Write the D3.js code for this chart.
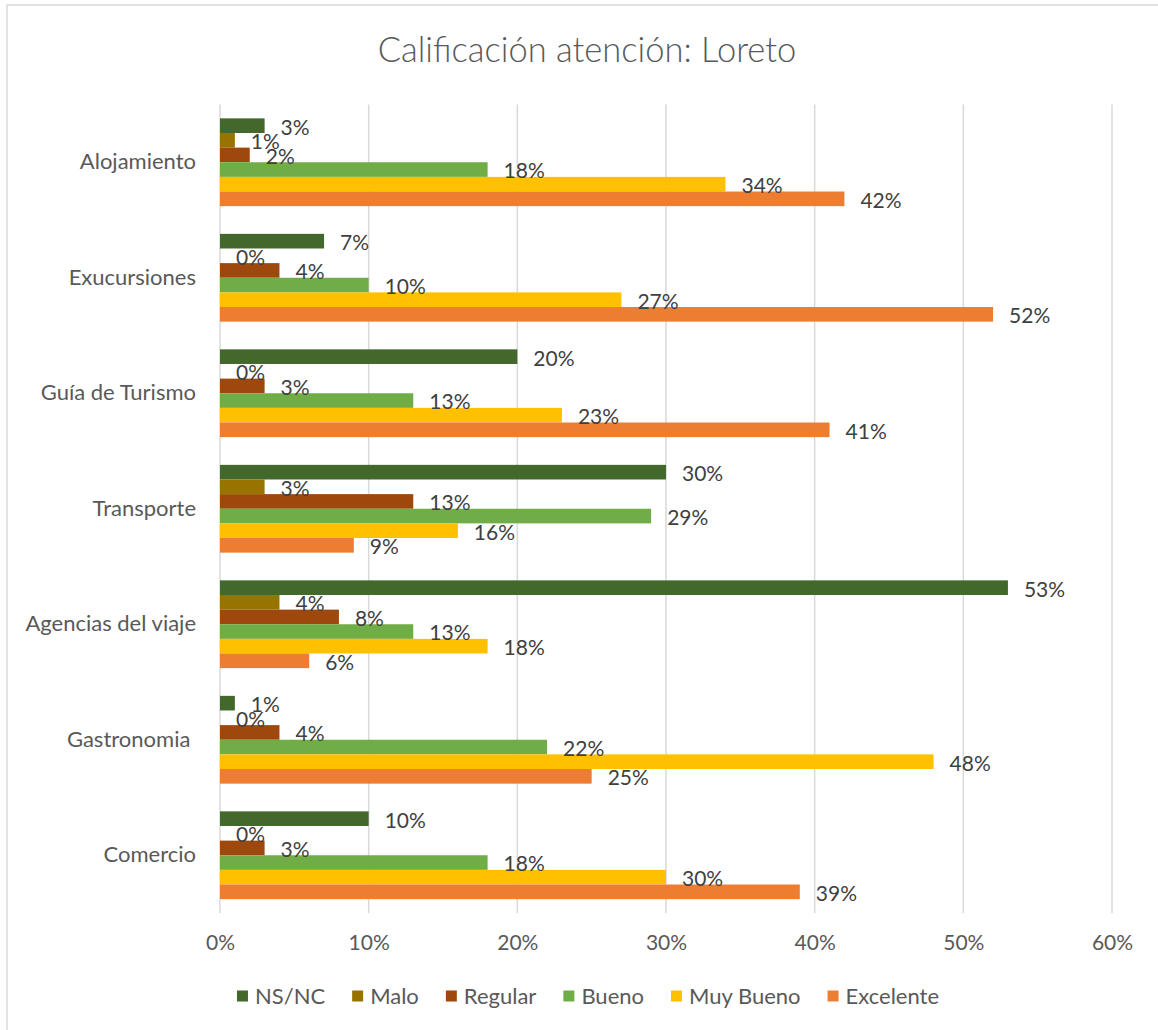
<!DOCTYPE html>
<html>
<head>
<meta charset="utf-8">
<script src="https://cdn.jsdelivr.net/npm/d3@7"></script>
<style>
  body { margin: 0; background: #fff; }
  text { font-family: Lato, "Open Sans", sans-serif; }
</style>
</head>
<body>
<div id="chart"></div>
<script>
var categories = ["Alojamiento", "Exucursiones", "Guía de Turismo", "Transporte", "Agencias del viaje", "Gastronomia ", "Comercio"];
var seriesNames = ["NS/NC", "Malo", "Regular", "Bueno", "Muy Bueno", "Excelente"];
var seriesColors = ["#43682b", "#997300", "#9e480e", "#70ad47", "#ffc000", "#ed7d31"];
var nsnc      = [3, 7, 20, 30, 53, 1, 10];
var malo      = [1, 0, 0, 3, 4, 0, 0];
var regular   = [2, 4, 3, 13, 8, 4, 3];
var bueno     = [18, 10, 13, 29, 13, 22, 18];
var muyBueno  = [34, 27, 23, 16, 18, 48, 30];
var excelente = [42, 52, 41, 9, 6, 25, 39];
var xTicks = [0, 10, 20, 30, 40, 50, 60];

var seriesValues = [nsnc, malo, regular, bueno, muyBueno, excelente];

var width = 1158,
    height = 1030,
    plotLeft = 220,
    plotRight = 1112,
    plotTop = 104.5,
    plotBottom = 913,
    textColor = "#595959",
    labelColor = "#404040",
    gridColor = "#d9d9d9";

var svg = d3.select("#chart").append("svg")
  .attr("width", width)
  .attr("height", height);

// chart border (right/bottom run off the picture)
svg.append("rect")
  .attr("x", 7)
  .attr("y", 5)
  .attr("width", 1300)
  .attr("height", 1200)
  .attr("fill", "none")
  .attr("stroke", gridColor)
  .attr("stroke-width", 1.5);

svg.append("text")
  .attr("x", 587)
  .attr("y", 62)
  .attr("text-anchor", "middle")
  .attr("fill", textColor)
  .style("font-size", "34.5px")
  .style("font-weight", 300)
  .text("Calificación atención: Loreto");

var x = d3.scaleLinear()
  .domain([0, 60])
  .range([plotLeft, plotRight]);

var y = d3.scaleBand()
  .domain(categories)
  .range([plotTop, plotBottom])
  .paddingInner(0.24)
  .paddingOuter(0.12);

var ySub = d3.scaleBand()
  .domain(seriesNames)
  .range([0, y.bandwidth()]);

// gridlines
svg.append("g")
  .selectAll("line")
  .data(xTicks)
  .enter().append("line")
  .attr("x1", function(d) { return x(d); })
  .attr("x2", function(d) { return x(d); })
  .attr("y1", plotTop)
  .attr("y2", plotBottom)
  .attr("stroke", gridColor)
  .attr("stroke-width", 1.5);

// x tick labels
var xAxis = d3.axisBottom(x)
  .tickValues(xTicks)
  .tickSize(0)
  .tickPadding(0)
  .tickFormat(function(d) { return d + "%"; });

var gx = svg.append("g")
  .attr("transform", "translate(0," + 943 + ")")
  .call(xAxis);
gx.select(".domain").remove();
gx.selectAll("text")
  .attr("dy", "0.35em")
  .attr("fill", textColor)
  .style("font-size", "21px");

// category labels
var yAxis = d3.axisLeft(y)
  .tickSize(0)
  .tickPadding(24);

var gy = svg.append("g")
  .attr("transform", "translate(" + plotLeft + ",0)")
  .call(yAxis);
gy.select(".domain").remove();
gy.selectAll("text")
  .attr("fill", textColor)
  .style("font-size", "22px")
  .style("white-space", "pre");

// bars
var rows = [];
categories.forEach(function(c, i) {
  seriesNames.forEach(function(s, j) {
    rows.push({ cat: c, series: s, color: seriesColors[j], value: seriesValues[j][i] });
  });
});

var bars = svg.append("g");

bars.selectAll("rect")
  .data(rows)
  .enter().append("rect")
  .attr("x", x(0))
  .attr("y", function(d) { return y(d.cat) + ySub(d.series); })
  .attr("width", function(d) { return x(d.value) - x(0); })
  .attr("height", ySub.bandwidth())
  .attr("fill", function(d) { return d.color; });

bars.selectAll("text")
  .data(rows)
  .enter().append("text")
  .attr("x", function(d) { return x(d.value) + 16; })
  .attr("y", function(d) { return y(d.cat) + ySub(d.series) + ySub.bandwidth() / 2 + 1.5; })
  .attr("dy", "0.35em")
  .attr("fill", labelColor)
  .style("font-size", "21px")
  .text(function(d) { return d.value + "%"; });

// legend
var legend = svg.append("g");
var items = legend.selectAll("g")
  .data(seriesNames)
  .enter().append("g");

items.append("rect")
  .attr("width", 11)
  .attr("height", 11)
  .attr("y", -5.5)
  .attr("fill", function(d, i) { return seriesColors[i]; });

items.append("text")
  .attr("x", 18)
  .attr("dy", "0.35em")
  .attr("fill", textColor)
  .style("font-size", "22px")
  .text(function(d) { return d; });

var offsets = [], pos = 0;
items.each(function() {
  offsets.push(pos);
  var w = d3.select(this).select("text").node().getComputedTextLength();
  pos += 18 + w + 27;
});
var total = pos - 27;
var startX = 588 - total / 2;
items.attr("transform", function(d, i) { return "translate(" + (startX + offsets[i]) + "," + 996 + ")"; });
</script>
</body>
</html>
